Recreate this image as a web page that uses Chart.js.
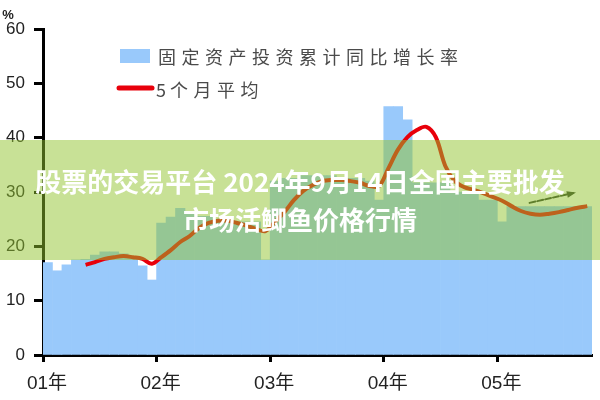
<!DOCTYPE html>
<html>
<head>
<meta charset="utf-8">
<script src="https://cdn.jsdelivr.net/npm/chart.js@4/dist/chart.umd.min.js"></script>
<style>
    body { margin: 0; background: #fff; }
    #wrap { position: relative; width: 600px; height: 400px; }
    #band {
        position: absolute; left: 0; top: 140px; width: 600px; height: 120px;
        background: rgba(145, 195, 45, 0.5);
        display: flex; flex-direction: column; align-items: center; justify-content: center;
        color: #fff; font-family: "Noto Sans CJK SC", sans-serif; font-weight: bold;
        font-size: 26px; line-height: 38px;
    }
</style>
</head>
<body>
<div id="wrap">
    <canvas id="chart" width="600" height="400"></canvas>
    <div id="band">
        <div>股票的交易平台 2024年9月14日全国主要批发</div>
        <div>市场活鲫鱼价格行情</div>
    </div>
</div>
<script>
// monthly values, 12 per year starting 01年
var yearLabels = ['01年', '02年', '03年', '04年', '05年'];
var yTicks = [0, 10, 20, 30, 40, 50, 60];
var barValues = [
    17, 15.5, 16.6, 17.5, 17.6, 18.4, 19, 19, 18.6, 17.8, 16.4, 13.8,
    24.3, 25.4, 27, 26, 25.5, 25.5, 25, 25, 24.5, 24.5, 24.5, 17.5,
    32, 32.5, 32.5, 33, 33, 33, 33, 32.5, 32.5, 32.5, 32, 28.5,
    45.7, 45.7, 43.3, 31.7, 31.7, 31.7, 31.7, 30, 30, 30, 28.5, 28.5,
    24.5, 27.3, 27.3, 27.3, 27.3, 27.3, 27.3, 27.3, 27.3, 27.3
];
var avgValues = [
    null, null, null, null, 16.6, 17.1, 17.7, 18.0, 18.2, 18.0, 17.7, 16.8,
    18.0, 19.3, 20.8, 21.9, 23.4, 24.3, 24.7, 24.7, 24.3, 23.8, 23.2, 22.8,
    24.5, 26.3, 28.5, 30.2, 31.3, 32, 32.2, 32.2, 32, 31.7, 31.1, 31.1,
    34.4, 37.8, 40.1, 41.4, 42, 40.1, 34.8, 32, 30.9, 30.4, 29.8, 29.1,
    28.4, 27.4, 26.5, 26, 25.8, 26, 26.3, 26.7, 27.1, 27.4
];
var barName = '固定资产投资累计同比增长率';
var lineName = '5个月平均';

var barPoints = barValues.map(function(v, i) { return { x: i + 0.5, y: v }; });
var linePoints = avgValues.map(function(v, i) { return { x: i + 0.5, y: v }; });

// legend, unit and the little arrow
var extras = {
    id: 'extras',
    afterDraw: function(chart) {
        var ctx = chart.ctx;
        var xs = chart.scales.x, ys = chart.scales.y;
        ctx.save();
        ctx.fillStyle = '#222';
        ctx.font = 'bold 13px "Liberation Sans"';
        ctx.textAlign = 'center';
        ctx.textBaseline = 'middle';
        ctx.fillText('%', 8, 15);

        ctx.fillStyle = '#99c9fb';
        ctx.fillRect(120, 49, 30, 14);
        ctx.strokeStyle = '#e8000b';
        ctx.lineWidth = 5;
        ctx.lineCap = 'round';
        ctx.beginPath();
        ctx.moveTo(119, 88);
        ctx.lineTo(152, 88);
        ctx.stroke();

        ctx.fillStyle = '#4a4a4a';
        ctx.font = '18px "Noto Sans CJK SC"';
        ctx.textAlign = 'left';
        barName.split('').forEach(function(ch, i) {
            ctx.fillText(ch, 158 + i * 23.5, 57);
        });
        var lx = 156;
        lineName.split('').forEach(function(ch, i) {
            ctx.fillText(ch, lx, 90);
            lx += (i === 0 ? 14 : 23.5);
        });

        // arrow
        var x1 = xs.getPixelForValue(51.4), y1 = ys.getPixelForValue(28);
        var x2 = xs.getPixelForValue(56), y2 = ys.getPixelForValue(29.8);
        ctx.strokeStyle = '#2d3a2a';
        ctx.lineWidth = 2;
        ctx.setLineDash([6, 2]);
        ctx.beginPath();
        ctx.moveTo(x1, y1);
        ctx.lineTo(x2, y2);
        ctx.stroke();
        ctx.setLineDash([]);
        var a = Math.atan2(y2 - y1, x2 - x1);
        ctx.fillStyle = '#2d3a2a';
        ctx.beginPath();
        ctx.moveTo(x2 + 3 * Math.cos(a), y2 + 3 * Math.sin(a));
        ctx.lineTo(x2 - 7 * Math.cos(a - 0.5), y2 - 7 * Math.sin(a - 0.5));
        ctx.lineTo(x2 - 7 * Math.cos(a + 0.5), y2 - 7 * Math.sin(a + 0.5));
        ctx.closePath();
        ctx.fill();
        ctx.restore();
    }
};

new Chart(document.getElementById('chart'), {
    data: {
        datasets: [{
            type: 'line',
            label: lineName,
            data: linePoints,
            borderColor: '#e8000b',
            borderWidth: 4,
            pointRadius: 0,
            tension: 0.35,
            spanGaps: false,
            order: 0
        }, {
            type: 'bar',
            label: barName,
            data: barPoints,
            backgroundColor: '#99c9fb',
            borderWidth: 0,
            barPercentage: 1,
            categoryPercentage: 1,
            order: 1
        }]
    },
    options: {
        responsive: false,
        animation: false,
        layout: { padding: { top: 29, right: 8, left: 0, bottom: 0 } },
        plugins: { legend: { display: false }, tooltip: { enabled: false } },
        scales: {
            x: {
                type: 'linear',
                min: 0,
                max: 58,
                offset: false,
                afterFit: function(s) { s.height = 45; },
                afterBuildTicks: function(s) { s.ticks = yearLabels.map(function(l, i) { return { value: i * 12 }; }); },
                border: { display: true, color: '#000', width: 3 },
                grid: { offset: false, drawOnChartArea: false, drawTicks: true, tickLength: 7, tickWidth: 3, color: '#000' },
                ticks: {
                    autoSkip: false,
                    maxRotation: 0,
                    padding: 10,
                    labelOffset: 4,
                    color: '#222',
                    font: { family: '"Liberation Sans", "Noto Sans CJK SC"', size: 19 },
                    callback: function(v) { return yearLabels[Math.round(v / 12)]; }
                }
            },
            y: {
                min: 0,
                max: 60,
                afterFit: function(s) { s.width = 43; },
                afterBuildTicks: function(s) { s.ticks = yTicks.map(function(v) { return { value: v }; }); },
                border: { display: true, color: '#000', width: 3 },
                grid: { drawOnChartArea: false, drawTicks: true, tickLength: 9, tickWidth: 3, color: '#000' },
                ticks: {
                    padding: 9,
                    color: '#222',
                    font: { family: '"Liberation Sans"', size: 17 }
                }
            }
        }
    },
    plugins: [extras]
});
</script>
</body>
</html>
